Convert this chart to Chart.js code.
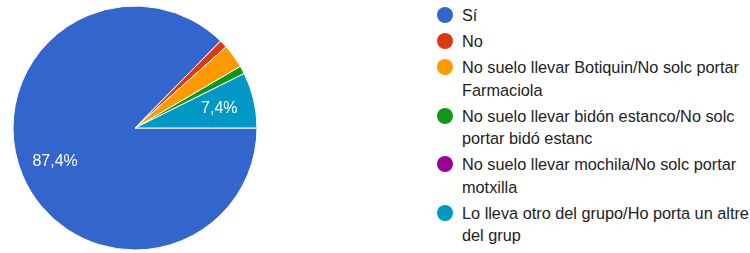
<!DOCTYPE html>
<html>
<head>
<meta charset="utf-8">
<script src="https://cdn.jsdelivr.net/npm/chart.js@4/dist/chart.umd.min.js"></script>
<style>
  html, body { margin: 0; padding: 0; background: #ffffff; }
  body { width: 750px; height: 253px; position: relative; overflow: hidden; font-family: "Liberation Sans", Arial, sans-serif; }
  #pieBox { position: absolute; left: 0; top: 6px; width: 270px; height: 244px; }
  #legend { position: absolute; left: 437px; top: 4px; width: 313px; }
  .item { position: relative; padding-left: 25px; margin-bottom: 3.5px; color: #222; font-size: 16.3px; line-height: 22.5px; white-space: nowrap; }
  .dot { position: absolute; left: 0; top: 3.3px; width: 16px; height: 16px; border-radius: 50%; }
</style>
</head>
<body>
<div id="pieBox"><canvas id="c"></canvas></div>
<div id="legend"></div>
<script>
const categories = [
  ["Sí"],
  ["No"],
  ["No suelo llevar Botiquin/No solc portar", "Farmaciola"],
  ["No suelo llevar bidón estanco/No solc", "portar bidó estanc"],
  ["No suelo llevar mochila/No solc portar", "motxilla"],
  ["Lo lleva otro del grupo/Ho porta un altre", "del grup"]
];
const counts = [83, 1, 3, 1, 0, 7];
const colors = ["#3366cc", "#dc3912", "#ff9900", "#109618", "#990099", "#0099c6"];

const total = counts.reduce((a, b) => a + b, 0);

const labelPlugin = {
  id: "sliceLabels",
  afterDatasetsDraw(chart) {
    const ctx = chart.ctx;
    const meta = chart.getDatasetMeta(0);
    ctx.save();
    ctx.fillStyle = "#ffffff";
    ctx.font = "16px 'Liberation Sans', Arial, sans-serif";
    ctx.textAlign = "center";
    ctx.textBaseline = "middle";
    meta.data.forEach((arc, i) => {
      const pct = counts[i] / total * 100;
      if (pct < 5) return;
      const p = arc.getProps(["x", "y", "startAngle", "endAngle", "outerRadius"], true);
      const mid = (p.startAngle + p.endAngle) / 2;
      const r = p.outerRadius * 0.71;
      const txt = pct.toFixed(1).replace(".", ",") + "%";
      ctx.fillText(txt, p.x + Math.cos(mid) * r, p.y + Math.sin(mid) * r);
    });
    ctx.restore();
  }
};

new Chart(document.getElementById("c"), {
  type: "pie",
  data: {
    labels: categories.map(l => l.join(" ")),
    datasets: [{
      data: counts,
      backgroundColor: colors,
      borderColor: "#ffffff",
      borderWidth: 1
    }]
  },
  options: {
    responsive: true,
    maintainAspectRatio: false,
    animation: false,
    rotation: 90,
    radius: 122,
    layout: { padding: 0 },
    plugins: {
      legend: { display: false },
      tooltip: { enabled: false }
    }
  },
  plugins: [labelPlugin]
});

const legend = document.getElementById("legend");
categories.forEach((lines, i) => {
  const it = document.createElement("div");
  it.className = "item";
  const d = document.createElement("span");
  d.className = "dot";
  d.style.background = colors[i];
  it.appendChild(d);
  lines.forEach((ln, j) => {
    if (j > 0) it.appendChild(document.createElement("br"));
    it.appendChild(document.createTextNode(ln));
  });
  legend.appendChild(it);
});
</script>
</body>
</html>
